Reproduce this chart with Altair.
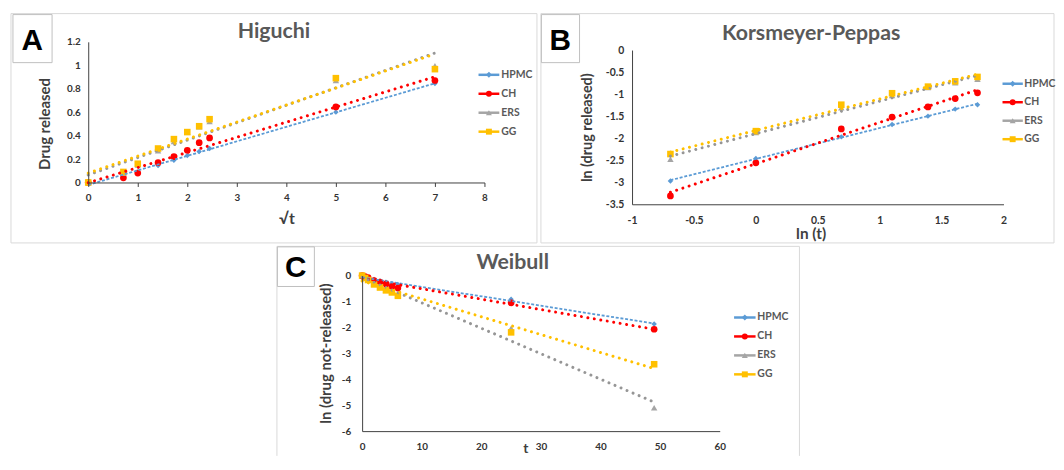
import altair as alt
import pandas as pd

# ---------------- data ----------------
SERIES = ["HPMC", "CH", "ERS", "GG"]
MARK_COLORS = ["#5B9BD5", "#FF0000", "#A5A5A5", "#FFC000"]
TREND_COLORS = ["#5B9BD5", "#FF0000", "#969696", "#FFC000"]
SHAPES = ["diamond", "circle", "triangle-up", "square"]
MARK_SIZES = [30, 46, 42, 44]

# Higuchi: x = sqrt(t), y = drug released
HIG_X = [0, 0.71, 1, 1.41, 1.73, 2, 2.24, 2.45, 5, 7]
HIG_HPMC = [0, 0.055, 0.09, 0.145, 0.19, 0.23, 0.265, 0.29, 0.60, 0.845]
HIG_CH = [0, 0.04, 0.08, 0.17, 0.22, 0.275, 0.34, 0.38, 0.645, 0.87]
HIG_ERS = [0, 0.08, 0.15, 0.27, 0.35, 0.43, 0.475, 0.52, 0.87, 0.995]
HIG_GG = [0, 0.09, 0.16, 0.29, 0.37, 0.43, 0.48, 0.54, 0.89, 0.967]

# Korsmeyer-Peppas: x = ln(t), y = ln(drug released)
KP_X = [-0.69, 0, 0.69, 1.1, 1.39, 1.61, 1.79]
KP_HPMC = [-2.97, -2.46, -1.97, -1.69, -1.50, -1.34, -1.24]
KP_CH = [-3.31, -2.56, -1.79, -1.52, -1.29, -1.10, -0.97]
KP_ERS = [-2.48, -1.87, -1.31, -1.03, -0.85, -0.74, -0.66]
KP_GG = [-2.36, -1.84, -1.24, -0.98, -0.83, -0.71, -0.61]

# Weibull: x = t, y = ln(drug not-released)
WB_X = [0, 0.5, 1, 2, 3, 4, 5, 6, 25, 49]
WB_HPMC = [0, -0.05, -0.09, -0.15, -0.21, -0.26, -0.31, -0.34, -0.91, -1.87]
WB_CH = [0, -0.04, -0.08, -0.19, -0.25, -0.32, -0.42, -0.48, -1.05, -2.07]
WB_ERS = [0, -0.08, -0.16, -0.31, -0.43, -0.56, -0.64, -0.73, -2.03, -5.1]
WB_GG = [0, -0.09, -0.17, -0.34, -0.46, -0.57, -0.65, -0.78, -2.19, -3.42]

# axis ticks
HIG_XTICKS = [0, 1, 2, 3, 4, 5, 6, 7, 8]
HIG_YTICKS = [0, 0.2, 0.4, 0.6, 0.8, 1, 1.2]
KP_XTICKS = [-1, -0.5, 0, 0.5, 1, 1.5, 2]
KP_YTICKS = [0, -0.5, -1, -1.5, -2, -2.5, -3, -3.5]
WB_XTICKS = [0, 10, 20, 30, 40, 50, 60]
WB_YTICKS = [0, -1, -2, -3, -4, -5, -6]

FONT = "Lato"
LABEL_COLOR = "#333333"
AXIS_COLOR = "#404040"
TITLE_COLOR = "#595959"

# Layout (page pixels).  Each panel: frame origin, frame size, and the
# pixel range of its x / y scales inside the frame.
PANELS = [
    dict(
        letter="A", title="Higuchi", xtitle="\u221at", ytitle="Drug released",
        x=HIG_X, ys=[HIG_HPMC, HIG_CH, HIG_ERS, HIG_GG],
        xdom=[0, 8], ydom=[0, 1.2], xticks=HIG_XTICKS, yticks=HIG_YTICKS,
        origin=(88, 40), size=(400, 142), xrange=[0, 400], yrange=[142, 0], yaxis_offset=0,
        box=(10, 11.5, 541, 243), full_box=True,
        letter_box=(12, 12.5, 51.5, 61), letter_pos=(31.5, 39),
        title_pos=(275.5, 30), ytitle_pos=(44.5, 123), ytitle_size=15,
        xtitle_pos=(288.6, 219), xtitle_size=16,
        leg_line=(482, 503), leg_text=505, leg_rows=(73.3, 130.7),
        xticks_on=True, xlabpad=6, ylabpad=8, labsize=10,
    ),
    dict(
        letter="B", title="Korsmeyer-Peppas", xtitle="ln (t)", ytitle="ln (drug released)",
        x=KP_X, ys=[KP_HPMC, KP_CH, KP_ERS, KP_GG],
        xdom=[-1, 2], ydom=[-3.5, 0], xticks=KP_XTICKS, yticks=KP_YTICKS,
        origin=(637, 40), size=(375, 164), xrange=[0, 375], yrange=[164, 8.3], yaxis_offset=0,
        box=(545, 11.5, 1063, 243), full_box=True,
        letter_box=(545.5, 12.5, 584, 61), letter_pos=(564.5, 39),
        title_pos=(817.8, 32), ytitle_pos=(593, 126.7), ytitle_size=14.5,
        xtitle_pos=(817.8, 234.5), xtitle_size=15.5,
        leg_line=(1011, 1031.5), leg_text=1033, leg_rows=(82.3, 138.3),
        xticks_on=False, xlabpad=11.5, ylabpad=8.4, labsize=10.5,
    ),
    dict(
        letter="C", title="Weibull", xtitle="t", ytitle="ln (drug not-released)",
        x=WB_X, ys=[WB_HPMC, WB_CH, WB_ERS, WB_GG],
        xdom=[0, 60], ydom=[-6, 0], xticks=WB_XTICKS, yticks=WB_YTICKS,
        origin=(88, 276), size=(637.5, 157), xrange=[276.5, 637.5], yrange=[157, 0],
        yaxis_offset=-276.5,
        box=(278.5, 246.5, 806, 458), full_box=False,
        letter_box=(279, 247, 316.3, 287), letter_pos=(297.5, 268.5),
        title_pos=(516.5, 263), ytitle_pos=(328.4, 354.7), ytitle_size=15,
        xtitle_pos=(529.8, 451), xtitle_size=14,
        leg_line=(740, 761.7), leg_text=763.5, leg_rows=(318.3, 375.7),
        xticks_on=False, xlabpad=11, ylabpad=11.5, labsize=10,
    ),
]


def make_panel(p):
    ox, oy = p["origin"]
    W, H = p["size"]
    one = alt.Data(values=[{"k": 0}])

    def vx(px):
        return alt.value(px - ox)

    def vy(py):
        return alt.value(py - oy)

    deco = []
    bx0, by0, bx1, by1 = p["box"]
    if p["full_box"]:
        deco.append(alt.Chart(one).mark_rect(filled=False, color="#D9D9D9", strokeWidth=1)
                    .encode(x=vx(bx0), x2=vx(bx1), y=vy(by0), y2=vy(by1)))
    else:
        rule = dict(color="#D9D9D9", strokeWidth=1)
        deco.append(alt.Chart(one).mark_rule(**rule).encode(x=vx(bx0), x2=vx(bx1), y=vy(by0)))
        deco.append(alt.Chart(one).mark_rule(**rule).encode(x=vx(bx0), y=vy(by0), y2=vy(by1)))
        deco.append(alt.Chart(one).mark_rule(**rule).encode(x=vx(bx1), y=vy(by0), y2=vy(by1)))
    lx0, ly0, lx1, ly1 = p["letter_box"]
    deco.append(alt.Chart(one).mark_rect(filled=False, color="#BFBFBF", strokeWidth=1)
                .encode(x=vx(lx0), x2=vx(lx1), y=vy(ly0), y2=vy(ly1)))
    deco.append(alt.Chart(one).mark_text(text=p["letter"], font="Liberation Sans", fontWeight="bold",
                                         fontSize=30, color="black", align="center", baseline="middle")
                .encode(x=vx(p["letter_pos"][0]), y=vy(p["letter_pos"][1])))
    deco.append(alt.Chart(one).mark_text(text=p["title"], font=FONT, fontWeight="bold", fontSize=21.5,
                                         color=TITLE_COLOR, align="center", baseline="middle")
                .encode(x=vx(p["title_pos"][0]), y=vy(p["title_pos"][1])))
    deco.append(alt.Chart(one).mark_text(text=p["ytitle"], font=FONT, fontWeight="bold",
                                         fontSize=p["ytitle_size"], color="#3F3F3F", angle=270,
                                         align="center", baseline="middle")
                .encode(x=vx(p["ytitle_pos"][0]), y=vy(p["ytitle_pos"][1])))
    deco.append(alt.Chart(one).mark_text(text=p["xtitle"], font=FONT, fontWeight="bold",
                                         fontSize=p["xtitle_size"], color="#3F3F3F",
                                         align="center", baseline="middle")
                .encode(x=vx(p["xtitle_pos"][0]), y=vy(p["xtitle_pos"][1])))

    common = dict(grid=False, title=None, domainColor=AXIS_COLOR, domainWidth=1,
                  labelFont=FONT, labelFontWeight="bold", labelFontSize=p["labsize"],
                  labelColor=LABEL_COLOR, labelFlush=False, labelOverlap=False,
                  labelExpr="toString(datum.value)", zindex=1)
    xaxis = alt.Axis(values=p["xticks"], ticks=p["xticks_on"], tickSize=4 if p["xticks_on"] else 0,
                     tickColor=AXIS_COLOR, labelPadding=p["xlabpad"], **common)
    yaxis = alt.Axis(values=p["yticks"], ticks=False, tickSize=0, labelPadding=p["ylabpad"],
                     offset=p["yaxis_offset"], **common)
    X = alt.X("x:Q", scale=alt.Scale(domain=p["xdom"], range=p["xrange"], nice=False, zero=False),
              axis=xaxis)
    Y = alt.Y("y:Q", scale=alt.Scale(domain=p["ydom"], range=p["yrange"], nice=False, zero=False),
              axis=yaxis)

    point_layers = []
    trend_layers = []
    for i, s in enumerate(SERIES):
        df = pd.DataFrame({"x": p["x"], "y": p["ys"][i]})
        point_layers.append(alt.Chart(df).mark_point(shape=SHAPES[i], filled=True, size=MARK_SIZES[i],
                                                     color=MARK_COLORS[i], opacity=1)
                            .encode(x=X, y=Y))
        if s == "HPMC":
            style = dict(strokeWidth=1.8, strokeDash=[3, 1.8], strokeCap="butt")
        else:
            style = dict(strokeWidth=3, strokeDash=[0.01, 6.6], strokeCap="round")
        trend_layers.append(alt.Chart(df).transform_regression("x", "y")
                            .mark_line(color=TREND_COLORS[i], **style)
                            .encode(x=X, y=Y))
    main = alt.layer(*point_layers, *trend_layers)

    # legend built from the series list through a point scale
    leg_df = pd.DataFrame({"series": SERIES})
    r0, r1 = p["leg_rows"]
    LY = alt.Y("series:N", scale=alt.Scale(type="point", domain=SERIES, range=[r0 - oy, r1 - oy],
                                           padding=0), axis=None)
    LC = alt.Color("series:N", scale=alt.Scale(domain=SERIES, range=MARK_COLORS), legend=None)
    LS = alt.Shape("series:N", scale=alt.Scale(domain=SERIES, range=SHAPES), legend=None)
    l0, l1 = p["leg_line"]
    leg = alt.layer(
        alt.Chart(leg_df).mark_rule(strokeWidth=2.5).encode(x=vx(l0), x2=vx(l1), y=LY, color=LC),
        alt.Chart(leg_df).mark_point(filled=True, size=36, opacity=1)
        .encode(x=vx((l0 + l1) / 2), y=LY, color=LC, shape=LS),
        alt.Chart(leg_df).mark_text(align="left", baseline="middle", font=FONT, fontWeight="bold",
                                    fontSize=10.5, color=TITLE_COLOR)
        .encode(x=vx(p["leg_text"]), y=LY, text="series:N"),
    )

    return (alt.layer(*deco, main, leg)
            .resolve_scale(y="independent")
            .properties(width=W, height=H))


A = make_panel(PANELS[0])
B = make_panel(PANELS[1])
C = make_panel(PANELS[2])

chart = (
    alt.vconcat(alt.hconcat(A, B, spacing=2), C, spacing=2)
    .properties(padding={"left": 2, "top": 3, "right": 0, "bottom": 0}, background="white")
    .configure_view(stroke=None)
)

chart.save("out.html", embed_options={"renderer": "svg", "actions": False})
